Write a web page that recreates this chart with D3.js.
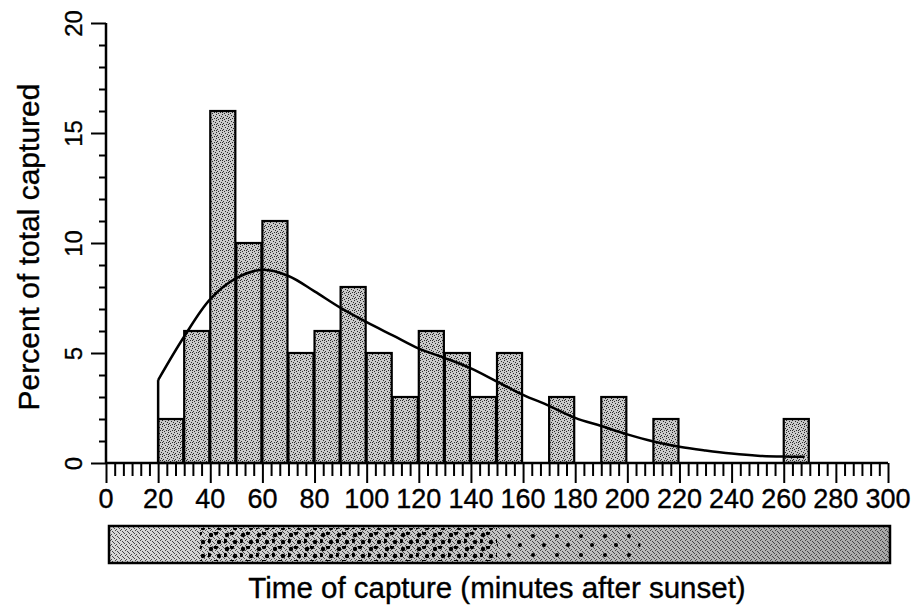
<!DOCTYPE html>
<html>
<head>
<meta charset="utf-8">
<script src="https://cdn.jsdelivr.net/npm/d3@7"></script>
<style>
  html, body { margin: 0; padding: 0; background: #fff; }
  svg { display: block; }
  text { font-family: "Liberation Sans", Arial, sans-serif; fill: #000; stroke: #000; stroke-width: 0.35px; }
</style>
</head>
<body>
<svg id="chart" width="916" height="615"></svg>
<script>
// ---- data ----
const binStarts = [20, 30, 40, 50, 60, 70, 80, 90, 100, 110, 120, 130, 140, 150, 170, 190, 210, 260];
const percents  = [2, 6, 16, 10, 11, 5, 6, 8, 5, 3, 6, 5, 3, 5, 3, 3, 2, 2];
const binWidth = 10;
const curveMinutes = [20, 30, 40, 50, 60, 70, 80, 90, 100, 110, 120, 130, 140, 150, 160, 170, 180, 190, 200, 210, 220, 230, 240, 250, 260, 268];
const curvePercent = [3.77, 5.75, 7.45, 8.4, 8.78, 8.5, 7.8, 7.05, 6.4, 5.8, 5.2, 4.77, 4.3, 3.7, 3.1, 2.6, 2.05, 1.68, 1.3, 0.98, 0.74, 0.57, 0.43, 0.33, 0.29, 0.28];
const xTickLabels = [0, 20, 40, 60, 80, 100, 120, 140, 160, 180, 200, 220, 240, 260, 280, 300];
const yTickLabels = [0, 5, 10, 15, 20];
const xTitle = "Time of capture (minutes after sunset)";
const yTitle = "Percent of total captured";

// ---- layout ----
const svg = d3.select("#chart");
const x = d3.scaleLinear().domain([0, 300]).range([106, 888]);
const y = d3.scaleLinear().domain([0, 20]).range([463, 23]);

const defs = svg.append("defs");
// stipple pattern for bars
const pat = defs.append("pattern").attr("id", "stip").attr("patternUnits", "userSpaceOnUse")
  .attr("width", 6).attr("height", 6);
pat.append("rect").attr("width", 6).attr("height", 6).attr("fill", "#c9c9c9");
[[0,0],[3,1],[1,3],[4,4],[2,5],[5,2],[0,4]].forEach(([a,b]) =>
  pat.append("rect").attr("x", a).attr("y", b).attr("width", 1).attr("height", 1).attr("fill", "#2a2a2a"));

// strip patterns
const grad = defs.append("linearGradient").attr("id", "stripGrad");
grad.append("stop").attr("offset", "0%").attr("stop-color", "#d6d6d6");
grad.append("stop").attr("offset", "50%").attr("stop-color", "#c4c4c4");
grad.append("stop").attr("offset", "100%").attr("stop-color", "#a8a8a8");
const pat2 = defs.append("pattern").attr("id", "stip2").attr("patternUnits", "userSpaceOnUse")
  .attr("width", 5).attr("height", 5);
[[0,0],[2,1],[4,3],[1,4],[3,2]].forEach(([a,b]) =>
  pat2.append("rect").attr("x", a).attr("y", b).attr("width", 1).attr("height", 1).attr("fill", "#444"));
const patDots = defs.append("pattern").attr("id", "bigdots").attr("patternUnits", "userSpaceOnUse")
  .attr("width", 16).attr("height", 14);
[[3,3],[11,10],[8,1],[1,9]].forEach(([a,b]) =>
  patDots.append("circle").attr("cx", a).attr("cy", b).attr("r", 2.2).attr("fill", "#000"));
const patDotsSparse = defs.append("pattern").attr("id", "sparsedots").attr("patternUnits", "userSpaceOnUse")
  .attr("width", 24).attr("height", 19);
[[5,4],[16,13]].forEach(([a,b]) =>
  patDotsSparse.append("circle").attr("cx", a).attr("cy", b).attr("r", 2).attr("fill", "#000"));

// ---- bars ----
const bars = binStarts.map((s, i) => ({ s, v: percents[i] }));
svg.append("g").selectAll("rect").data(bars).join("rect")
  .attr("x", d => x(d.s))
  .attr("y", d => y(d.v))
  .attr("width", d => x(d.s + binWidth) - x(d.s) - 1)
  .attr("height", d => y(0) - y(d.v))
  .attr("fill", "url(#stip)")
  .attr("stroke", "#000")
  .attr("stroke-width", 2.2);

// ---- curve ----
const pts = [[curveMinutes[0], 0]].concat(curveMinutes.map((m, i) => [m, curvePercent[i]]));
const line = d3.line().x(d => x(d[0])).y(d => y(d[1]));
const smooth = d3.line().x(d => x(d[0])).y(d => y(d[1])).curve(d3.curveCatmullRom);
svg.append("path")
  .attr("d", line(pts.slice(0, 2)))
  .attr("fill", "none").attr("stroke", "#000").attr("stroke-width", 2.5);
svg.append("path")
  .attr("d", smooth(pts.slice(1)))
  .attr("fill", "none").attr("stroke", "#000").attr("stroke-width", 2.5);

// ---- axes ----
// y axis
const yMinor = d3.range(0, 21);
const yAxis = d3.axisLeft(y).tickValues(yMinor).tickSize(7).tickFormat("");
const gy = svg.append("g").attr("transform", `translate(${x(0)},0)`).call(yAxis);
gy.select(".domain").attr("stroke-width", 2.5).attr("d", `M0,${y(20)}V${y(0)}`);
gy.selectAll(".tick line").attr("stroke-width", 2)
  .attr("x2", d => (d % 5 === 0 ? -15 : -7));
gy.selectAll(".tick")
  .filter(d => yTickLabels.includes(d))
  .append("text")
  .attr("transform", "translate(-24,0) rotate(-90)")
  .attr("text-anchor", "middle")
  .attr("font-size", 24)
  .text(d => d);

// x axis
const xMinor = d3.range(0, 91).map(i => i * 10 / 3);
const xAxis = d3.axisBottom(x).tickValues(xMinor).tickSize(13).tickFormat("");
const gx = svg.append("g").attr("transform", `translate(0,${y(0)})`).call(xAxis);
gx.select(".domain").attr("stroke-width", 2.5).attr("d", `M${x(0)},0H${x(300)}`);
gx.selectAll(".tick line").attr("stroke-width", 2)
  .attr("y2", (d, i) => (i % 6 === 0 ? 20 : 13));
svg.append("g").selectAll("text").data(xTickLabels).join("text")
  .attr("x", d => x(d))
  .attr("y", 508)
  .attr("text-anchor", "middle")
  .attr("font-size", 27)
  .text(d => d);

// ---- strip ----
const strip = svg.append("g");
strip.append("rect").attr("x", x(0) + 3).attr("y", 526).attr("width", 890 - x(0) - 3).attr("height", 37)
  .attr("fill", "url(#stripGrad)");
strip.append("rect").attr("x", x(0) + 3).attr("y", 526).attr("width", 890 - x(0) - 3).attr("height", 37)
  .attr("fill", "url(#stip2)");
strip.append("rect").attr("x", x(36)).attr("y", 528).attr("width", x(150) - x(36)).attr("height", 33)
  .attr("fill", "url(#bigdots)");
strip.append("rect").attr("x", x(150)).attr("y", 528).attr("width", x(205) - x(150)).attr("height", 33)
  .attr("fill", "url(#sparsedots)");
strip.append("rect").attr("x", x(0) + 3).attr("y", 526).attr("width", 890 - x(0) - 3).attr("height", 37)
  .attr("fill", "none").attr("stroke", "#000").attr("stroke-width", 2.5);

// ---- titles ----
svg.append("text")
  .attr("x", 497).attr("y", 598)
  .attr("text-anchor", "middle")
  .attr("font-size", 29.5)
  .text(xTitle);
svg.append("text")
  .attr("transform", `translate(39,247) rotate(-90)`)
  .attr("text-anchor", "middle")
  .attr("font-size", 30)
  .text(yTitle);
</script>
</body>
</html>
